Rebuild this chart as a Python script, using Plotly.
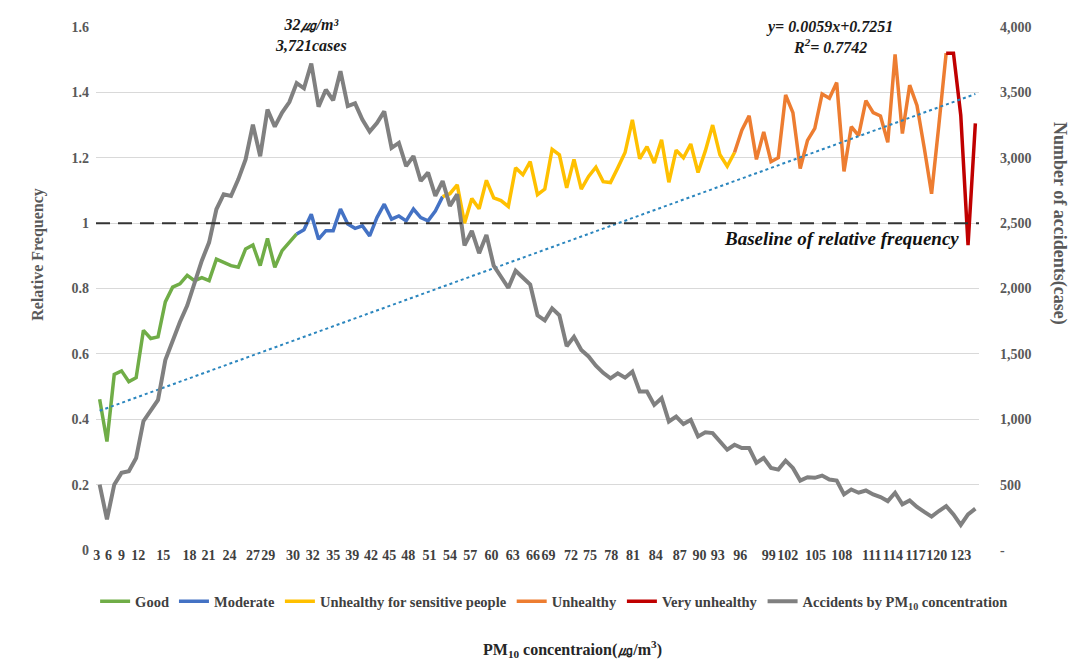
import plotly.graph_objects as go

# ---------------- data ----------------
pm10 = list(range(3, 124))

rel_freq = [
    0.461, 0.332, 0.537, 0.548, 0.515, 0.527, 0.672, 0.647, 0.652, 0.759,   # 3-12
    0.804, 0.814, 0.840, 0.824, 0.833, 0.824, 0.890, 0.880, 0.870, 0.865,   # 13-22
    0.921, 0.933, 0.870, 0.953, 0.865, 0.916, 0.943, 0.967, 0.980, 1.027,   # 23-32
    0.951, 0.977, 0.977, 1.043, 0.997, 0.984, 0.992, 0.961, 1.017, 1.058,   # 33-42
    1.012, 1.022, 1.007, 1.043, 1.017, 1.007, 1.037, 1.081, 1.090, 1.117,   # 43-52
    1.000, 1.075, 1.044, 1.131, 1.077, 1.069, 1.051, 1.169, 1.148, 1.188,   # 53-62
    1.087, 1.104, 1.226, 1.209, 1.108, 1.195, 1.104, 1.143, 1.171, 1.127,   # 63-72
    1.124, 1.169, 1.216, 1.316, 1.197, 1.234, 1.184, 1.255, 1.125, 1.223,   # 73-82
    1.200, 1.242, 1.155, 1.221, 1.300, 1.209, 1.174, 1.216, 1.284, 1.328,   # 83-92
    1.195, 1.279, 1.188, 1.200, 1.392, 1.338, 1.167, 1.253, 1.290, 1.395,   # 93-102
    1.382, 1.430, 1.158, 1.295, 1.268, 1.375, 1.338, 1.328, 1.247, 1.516,   # 103-112
    1.274, 1.422, 1.360, 1.230, 1.090, 1.300, 1.520, 1.520, 1.330, 0.933,   # 113-122
    1.305,                                                                  # 123
]

accidents = [
    500, 234, 500, 590, 603, 704, 985, 1071, 1148, 1452,                    # 3-12
    1600, 1744, 1870, 2049, 2213, 2353, 2606, 2721, 2708, 2835,             # 13-22
    2987, 3253, 3012, 3368, 3238, 3345, 3426, 3571, 3531, 3721,             # 23-32
    3390, 3520, 3439, 3662, 3395, 3416, 3292, 3200, 3266, 3355,             # 33-42
    3076, 3114, 2936, 3012, 2822, 2886, 2708, 2822, 2632, 2721,             # 43-52
    2330, 2440, 2270, 2410, 2175, 2090, 2005, 2136, 2080, 2031,             # 53-62
    1795, 1756, 1848, 1795, 1559, 1630, 1530, 1480, 1410, 1355,             # 63-72
    1313, 1351, 1318, 1364, 1212, 1212, 1110, 1161, 983, 1021,              # 73-82
    963, 995, 869, 900, 894, 831, 767, 805, 780, 780,                       # 83-92
    666, 704, 628, 615, 683, 628, 531, 557, 552, 569,                       # 93-102
    539, 531, 425, 463, 438, 455, 425, 405, 374, 438,                       # 103-112
    349, 379, 329, 291, 255, 298, 336, 272, 192, 272,                       # 113-122
    316,                                                                    # 123
]

level_names = ["Good", "Moderate", "Unhealthy for sensitive people",
               "Unhealthy", "Very unhealthy"]
level_lo = [3, 30, 50, 90, 119]
level_hi = [30, 50, 90, 119, 123]

trend_x = [3, 123]
trend_y = [0.426, 1.395]
baseline_value = 1.0

peak_pm10 = 32
peak_cases = 3721

tick_labels = ["3", "6", "9", "12", "15", "18", "21", "24", "27", "29", "30", "32",
               "35", "39", "42", "45", "48", "51", "54", "57", "60", "63", "66",
               "69", "72", "75", "78", "81", "84", "87", "90", "93", "96", "99",
               "102", "105", "108", "111", "114", "117", "120", "123"]
# where the labels sit along the axis in the reference (axis units)
tick_pos = [2.6, 4.2, 6.0, 8.3, 11.7, 15.3, 17.9, 20.8, 24.0, 26.1, 29.5, 32.2,
            35.0, 37.6, 40.2, 42.7, 45.3, 48.2, 51.0, 53.8, 56.7, 59.6, 62.4,
            64.5, 67.6, 70.2, 73.1, 76.1, 79.2, 82.5, 85.2, 87.7, 90.8, 94.7,
            97.3, 101.1, 104.7, 108.8, 111.7, 114.8, 117.7, 121.0]

left_ticks = [0, 0.2, 0.4, 0.6, 0.8, 1.0, 1.2, 1.4, 1.6]
left_ticktext = ["0", "0.2", "0.4", "0.6", "0.8", "1", "1.2", "1.4", "1.6"]
right_ticks = [0, 500, 1000, 1500, 2000, 2500, 3000, 3500, 4000]
right_ticktext = ["-", "500", "1,000", "1,500", "2,000", "2,500", "3,000", "3,500", "4,000"]

# ---------------- styles ----------------
level_colors = ["#70AD47", "#4472C4", "#FFC000", "#ED7D31", "#C00000"]
SERIF = "Liberation Serif, Times New Roman, serif"

fig = go.Figure()

for name, lo, hi, col in zip(level_names, level_lo, level_hi, level_colors):
    xs = [v for v in pm10 if lo <= v <= hi]
    ys = [rel_freq[pm10.index(v)] for v in xs]
    fig.add_trace(go.Scatter(x=xs, y=ys, mode="lines", name=name,
                             line=dict(color=col, width=3.5), yaxis="y"))

fig.add_trace(go.Scatter(x=trend_x, y=trend_y, mode="lines", showlegend=False,
                         line=dict(color="#2B86BE", width=2, dash="dot"), yaxis="y"))

fig.add_trace(go.Scatter(x=pm10, y=accidents, mode="lines",
                         name="Accidents by PM<sub>10</sub> concentration",
                         line=dict(color="#808080", width=4), yaxis="y2"))

fig.add_shape(type="line", xref="paper", x0=0, x1=1, yref="y",
              y0=baseline_value, y1=baseline_value,
              line=dict(color="#333333", width=2, dash="14px,8px"))

fig.update_layout(
    width=1078, height=660,
    margin=dict(l=88, r=107, t=17, b=118),
    paper_bgcolor="white", plot_bgcolor="white",
    font=dict(family=SERIF, color="#404040"),
    showlegend=True,
    legend=dict(orientation="h", x=-0.001, xanchor="left", y=-0.098, yanchor="middle",
                font=dict(family=SERIF, size=14.5, color="#404040", weight="bold"),
                bgcolor="rgba(0,0,0,0)", itemwidth=30, tracegroupgap=0),
    xaxis=dict(range=[2.5, 123.5], tickmode="array", tickvals=tick_pos, ticktext=tick_labels,
               tickangle=0, showgrid=False, zeroline=False, showline=False, ticks="",
               ticklabelstandoff=-5,
               tickfont=dict(family=SERIF, size=14, color="#404040", weight="bold")),
    yaxis=dict(range=[0, 1.6], tickmode="array", tickvals=left_ticks, ticktext=left_ticktext,
               showgrid=True, gridcolor="#D9D9D9", gridwidth=1, zeroline=False, showline=False,
               ticks="", ticklabelstandoff=6,
               tickfont=dict(family=SERIF, size=14, color="#595959", weight="bold")),
    yaxis2=dict(range=[0, 4000], overlaying="y", side="right", tickmode="array",
                tickvals=right_ticks, ticktext=right_ticktext, showgrid=False,
                zeroline=False, showline=False, ticks="", ticklabelstandoff=20,
                tickfont=dict(family=SERIF, size=14, color="#595959", weight="bold")),
)

annotations = [
    dict(text="<b>Relative Frequency</b>", xref="paper", yref="paper",
         x=-0.079, y=0.565, textangle=-90, showarrow=False,
         font=dict(family=SERIF, size=16, color="#595959")),
    dict(text="<b>Number of accidents(case)</b>", xref="paper", yref="paper",
         x=1.106, y=0.625, textangle=90, showarrow=False,
         font=dict(family=SERIF, size=18, color="#595959")),
    dict(text="<b>PM<sub>10</sub> concentraion(㎍/m<sup>3</sup>)</b>", xref="paper", yref="paper",
         x=0.54, y=-0.19, xanchor="center", yanchor="middle", showarrow=False,
         font=dict(family=SERIF, size=16, color="#262626")),
    dict(text=f"<b><i>{peak_pm10}㎍/m³<br>{peak_cases:,}cases</i></b>", xref="x", yref="paper",
         x=peak_pm10, y=0.985, xanchor="center", yanchor="middle", showarrow=False,
         font=dict(family=SERIF, size=16, color="#1a1a1a")),
    dict(text="<b><i>y= 0.0059x+0.7251<br>R<sup>2</sup>= 0.7742</i></b>", xref="paper", yref="paper",
         x=0.8306, y=0.98, xanchor="center", yanchor="middle", showarrow=False,
         font=dict(family=SERIF, size=16, color="#1a1a1a")),
    dict(text="<b><i>Baseline of relative frequency</i></b>", xref="paper", yref="y",
         x=0.98, y=0.952, xanchor="right", yanchor="middle", showarrow=False,
         font=dict(family=SERIF, size=19, color="#111111")),
]
fig.update_layout(annotations=annotations)

fig.write_html("out.html")
